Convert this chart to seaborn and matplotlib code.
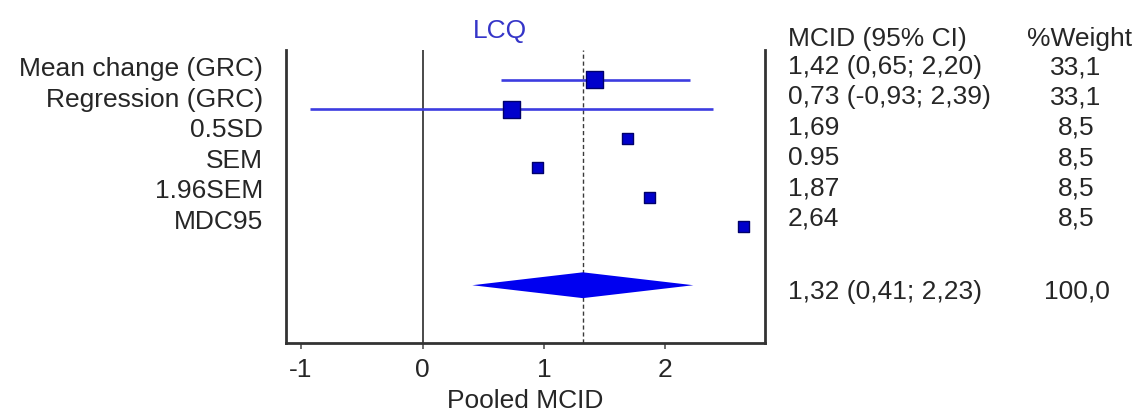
import matplotlib
matplotlib.use("Agg")
import matplotlib.pyplot as plt
import numpy as np
import pandas as pd
import seaborn as sns

# Data
methods = ["Mean change (GRC)", "Regression (GRC)", "0.5SD", "SEM", "1.96SEM", "MDC95"]
mcid = [1.42, 0.73, 1.69, 0.95, 1.87, 2.64]
ci_low = [0.65, -0.93, None, None, None, None]
ci_high = [2.20, 2.39, None, None, None, None]
mcid_text = ["1,42 (0,65; 2,20)", "0,73 (-0,93; 2,39)", "1,69", "0.95", "1,87", "2,64"]
weights = [33.1, 33.1, 8.5, 8.5, 8.5, 8.5]
weight_text = ["33,1", "33,1", "8,5", "8,5", "8,5", "8,5"]
pooled = 1.32
pooled_low = 0.41
pooled_high = 2.23
pooled_text = "1,32 (0,41; 2,23)"
pooled_weight_text = "100,0"
x_ticks = [-1, 0, 1, 2]
title = "LCQ"
x_label = "Pooled MCID"

sns.set_theme(style="white")
plt.rcParams["font.family"] = ["Liberation Sans", "DejaVu Sans"]

W, H = 1140, 417
fig = plt.figure(figsize=(W / 100, H / 100), dpi=100)
ax = fig.add_axes([286 / W, 1 - 343 / H, (765 - 286) / W, (343 - 50) / H])

df = pd.DataFrame({"method": methods, "mcid": mcid, "weight": weights,
                   "row": np.arange(len(methods))})

text_col = "#262626"
line_blue = "#3c3ce0"
mark_blue = "#0000cc"
fs = 19

# confidence interval lines
for r, lo, hi in zip(df["row"], ci_low, ci_high):
    if lo is not None:
        ax.hlines(r, lo, hi, color=line_blue, lw=1.9, zorder=2)

# point estimates, sized by weight
sns.scatterplot(data=df, x="mcid", y="row", size="weight", sizes=(62, 150),
                marker="s", color=mark_blue, edgecolor="#00006a", linewidth=1.0,
                legend=False, ax=ax, zorder=3)

# pooled estimate diamond
prow = len(methods) + 1
ax.fill([pooled_low, pooled, pooled_high, pooled],
        [prow, prow - 0.44, prow, prow + 0.44],
        color="#0000f0", lw=0, zorder=3)

# reference lines
ax.axvline(0, color="#3a3a3a", lw=1.3, zorder=1)
ax.axvline(pooled, color="#3a3a3a", lw=1.0, ls=(0, (3, 2)), zorder=1)

ax.set_xlim(-1.124, 2.82)
ax.set_ylim(8.97, -1.02)
ax.set_xticks(x_ticks)
ax.set_xticklabels([str(t) for t in x_ticks])
ax.set_yticks([])
ax.set_xlabel(x_label, fontsize=fs, color=text_col, labelpad=5)
ax.set_ylabel("")
ax.tick_params(axis="x", direction="out", length=4, width=1.2, color="#555555",
               labelsize=fs, labelcolor=text_col, pad=7, bottom=True)
for side in ["left", "right", "bottom"]:
    ax.spines[side].set_color("#333333")
    ax.spines[side].set_linewidth(2.0)
ax.spines["top"].set_visible(False)

# title
fig.text(500 / W, 1 - 31 / H, title, color="#3535c8", fontsize=fs,
         ha="center", va="center")

# left labels
for i, m in enumerate(methods):
    fig.text(263 / W, 1 - (69 + i * 30.6) / H, m, ha="right", va="center",
             fontsize=fs, color=text_col)

# right table
fig.text(788 / W, 1 - 39 / H, "MCID (95% CI)", ha="left", va="center",
         fontsize=fs, color=text_col)
fig.text(1080 / W, 1 - 39 / H, "%Weight", ha="center", va="center",
         fontsize=fs, color=text_col)
for i, (t, w) in enumerate(zip(mcid_text, weight_text)):
    y = 1 - (67 + i * 30.4) / H
    fig.text(788 / W, y, t, ha="left", va="center", fontsize=fs, color=text_col)
    fig.text(1076 / W, y, w, ha="center", va="center", fontsize=fs, color=text_col)
fig.text(788 / W, 1 - 292 / H, pooled_text, ha="left", va="center",
         fontsize=fs, color=text_col)
fig.text(1077 / W, 1 - 292 / H, pooled_weight_text, ha="center", va="center",
         fontsize=fs, color=text_col)

fig.savefig("out.png", dpi=100, facecolor="white")
